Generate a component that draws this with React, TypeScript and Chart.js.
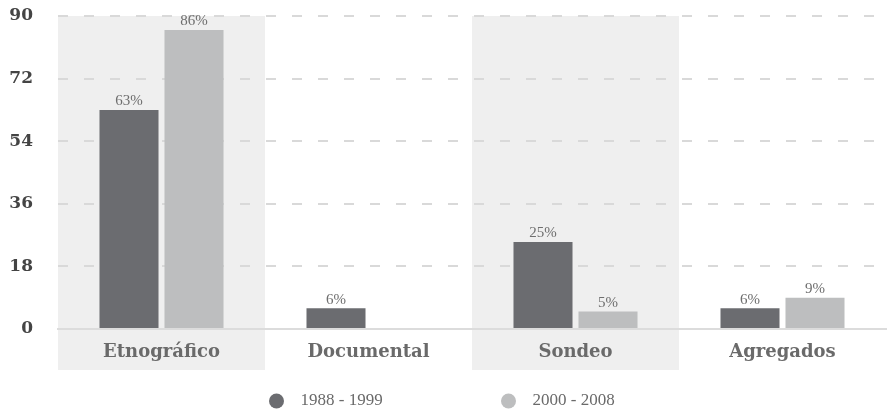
import React, { useEffect, useRef } from "react";
import { Chart, registerables } from "chart.js";

Chart.register(...registerables);

const categories = ["Etnográfico", "Documental", "Sondeo", "Agregados"];
const seriesNames = ["1988 - 1999", "2000 - 2008"];
const values1988 = [63, 6, 25, 6];
const values2000 = [86, 0, 5, 9];
const yTicks = [0, 18, 36, 54, 72, 90];

const DARK = "#6b6c70";
const LIGHT = "#bdbebf";
const BAND = "#efefef";
const SLAB = "'DejaVu Serif', serif";
const BODY = "'Liberation Serif', serif";

const bandPlugin = {
  id: "bands",
  beforeDraw(chart: any) {
    const { ctx, chartArea } = chart;
    const x = chart.scales.x;
    const w = (x.right - x.left) / categories.length;
    ctx.save();
    ctx.fillStyle = BAND;
    categories.forEach((_, i) => {
      if (i % 2 === 0) {
        const c = x.getPixelForValue(i);
        ctx.fillRect(c - w / 2, chartArea.top, w, 370 - chartArea.top);
      }
    });
    ctx.restore();
  },
};

const labelPlugin = {
  id: "valueLabels",
  afterDatasetsDraw(chart: any) {
    const { ctx } = chart;
    ctx.save();
    ctx.font = `15px ${BODY}`;
    ctx.fillStyle = "#6e6e6e";
    ctx.textAlign = "center";
    ctx.textBaseline = "bottom";
    chart.data.datasets.forEach((ds: any, di: number) => {
      const meta = chart.getDatasetMeta(di);
      meta.data.forEach((el: any, i: number) => {
        const v = ds.data[i];
        if (!v) return;
        ctx.fillText(v + "%", el.x, el.y - 1);
      });
    });
    ctx.restore();
  },
};

const legendPlugin = {
  id: "customLegend",
  afterDraw(chart: any) {
    const { ctx, width } = chart;
    const cx = width / 2;
    const y = 401;
    const items = [
      { x: cx - 168, color: DARK, text: seriesNames[0] },
      { x: cx + 64, color: LIGHT, text: seriesNames[1] },
    ];
    ctx.save();
    ctx.font = `17px ${BODY}`;
    ctx.textBaseline = "middle";
    ctx.textAlign = "left";
    items.forEach((it) => {
      ctx.beginPath();
      ctx.fillStyle = it.color;
      ctx.arc(it.x, y, 7.5, 0, Math.PI * 2);
      ctx.fill();
      ctx.fillStyle = "#6a6a6a";
      ctx.fillText(it.text, it.x + 24, y);
    });
    ctx.restore();
  },
};

export default function App() {
  const ref = useRef<HTMLCanvasElement>(null);
  useEffect(() => {
    if (!ref.current) return;
    const chart = new Chart(ref.current, {
      type: "bar",
      data: {
        labels: categories,
        datasets: [
          { label: seriesNames[0], data: values1988, backgroundColor: DARK },
          { label: seriesNames[1], data: values2000, backgroundColor: LIGHT },
        ],
      },
      options: {
        animation: false,
        responsive: true,
        maintainAspectRatio: false,
        layout: { padding: { left: 8, top: 16, right: 3, bottom: 0 } },
        plugins: {
          legend: { display: false },
          tooltip: { enabled: false },
        },
        datasets: {
          bar: { categoryPercentage: 0.628, barPercentage: 0.908 },
        },
        scales: {
          x: {
            grid: { display: false, drawTicks: false },
            border: { display: true, color: "#dcdcdc", width: 2 },
            ticks: {
              padding: 13,
              color: "#6a6a6a",
              font: { family: SLAB, weight: "bold", size: 18 },
            },
            afterFit(scale: any) {
              scale.height = 80;
            },
          },
          y: {
            min: 0,
            max: 90,
            afterBuildTicks(scale: any) {
              scale.ticks = yTicks.map((v) => ({ value: v }));
            },
            grid: {
              color: "#d9d9d9",
              lineWidth: 2,
              drawTicks: false,
            },
            border: { display: false, dash: [10, 16] },
            ticks: {
              padding: 25,
              color: "#444",
              font: { family: SLAB, weight: "bold", size: 17 },
            },
            afterFit(scale: any) {
              scale.width = 50;
              scale.paddingTop = 0;
              scale.paddingBottom = 0;
            },
          },
        },
      } as any,
      plugins: [bandPlugin, labelPlugin, legendPlugin],
    });
    return () => chart.destroy();
  }, []);
  return (
    <div style={{ position: "fixed", left: 0, top: 0, width: 889, height: 409 }}>
      <canvas ref={ref} />
    </div>
  );
}
